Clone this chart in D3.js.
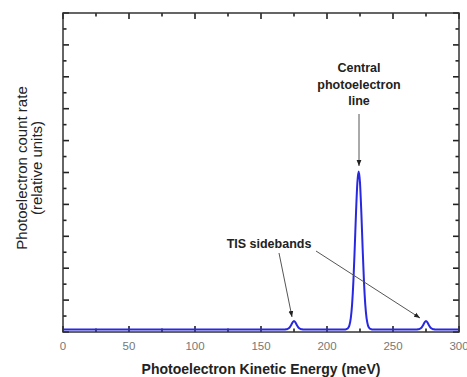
<!DOCTYPE html>
<html>
<head>
<meta charset="utf-8">
<script src="https://cdn.jsdelivr.net/npm/d3@7"></script>
<style>
  body { margin: 0; background: #fff; }
  svg { display: block; font-family: Arial, "Liberation Sans", sans-serif; }
</style>
</head>
<body>
<div id="chart"></div>
<script>
const W = 467, H = 377;
const margin = {top: 13, right: 8, bottom: 45, left: 63};

// spectrum (energy in meV, count rate in relative units)
const energy = [0, 160, 168, 169, 170, 171, 172, 173, 174, 175, 176, 177, 178, 179, 180, 181, 182, 190,
  214, 215, 216, 217, 218, 219, 220, 221, 222, 223, 224, 225, 226, 227, 228, 229, 230, 231, 232, 233, 234, 235, 236, 245,
  268, 269, 270, 271, 272, 273, 274, 275, 276, 277, 278, 279, 280, 281, 282, 300];
const counts = [0.16, 0.16, 0.16, 0.17, 0.19, 0.23, 0.32, 0.46, 0.61, 0.69, 0.61, 0.46, 0.32, 0.23, 0.19, 0.17, 0.16, 0.16,
  0.16, 0.19, 0.25, 0.43, 0.85, 1.72, 3.19, 5.25, 7.52, 9.36, 10.06, 9.36, 7.52, 5.25, 3.19, 1.72, 0.85, 0.43, 0.25, 0.19, 0.16, 0.16, 0.16,
  0.16, 0.16, 0.17, 0.19, 0.23, 0.32, 0.46, 0.61, 0.69, 0.61, 0.46, 0.32, 0.23, 0.19, 0.17, 0.16, 0.16, 0.16];

const xTicks = d3.range(0, 301, 25);
const xLabels = [0, 50, 100, 150, 200, 250, 300];
const yTicks = d3.range(0, 21, 1);

const xTitle = "Photoelectron Kinetic Energy (meV)";
const yTitle = ["Photoelectron count rate", "(relative units)"];

const svg = d3.select("#chart").append("svg").attr("width", W).attr("height", H);
const iw = W - margin.left - margin.right, ih = H - margin.top - margin.bottom;
const g = svg.append("g").attr("transform", `translate(${margin.left},${margin.top})`);

const x = d3.scaleLinear().domain([0, 300]).range([0, iw]);
const y = d3.scaleLinear().domain([0, 20]).range([ih, 0]);

// inward ticks, long on the major ones
function tickLen(v, major) { return major(v) ? 6 : 3.5; }
const xMajor = v => v % 50 === 0, yMajor = v => v % 2 === 0;

const ticks = g.append("g").attr("stroke", "#222").attr("stroke-width", 1.6);
xTicks.forEach(v => {
  const l = tickLen(v, xMajor);
  ticks.append("line").attr("x1", x(v)).attr("x2", x(v)).attr("y1", ih).attr("y2", ih - l);
  ticks.append("line").attr("x1", x(v)).attr("x2", x(v)).attr("y1", 0).attr("y2", l);
});
yTicks.forEach(v => {
  const l = tickLen(v, yMajor);
  ticks.append("line").attr("y1", y(v)).attr("y2", y(v)).attr("x1", 0).attr("x2", l);
  ticks.append("line").attr("y1", y(v)).attr("y2", y(v)).attr("x1", iw).attr("x2", iw - l);
});

// tick labels
g.append("g").selectAll("text").data(xLabels).join("text")
  .attr("x", d => x(d)).attr("y", ih + 18)
  .attr("text-anchor", "middle").attr("fill", "#777").style("font-size", "11.5px")
  .text(d => d);

// curve
const line = d3.line().x((d, i) => x(energy[i])).y(d => y(d)).curve(d3.curveMonotoneX);
g.append("path").datum(counts)
  .attr("d", line)
  .attr("fill", "none").attr("stroke", "#2828e0").attr("stroke-width", 2);

// frame
g.append("rect").attr("width", iw).attr("height", ih)
  .attr("fill", "none").attr("stroke", "#333").attr("stroke-width", 1.5);

// axis titles
svg.append("text").attr("x", margin.left + iw / 2).attr("y", 374)
  .attr("text-anchor", "middle").attr("fill", "#222")
  .style("font-size", "14px").style("font-weight", "bold").text(xTitle);
const yt = svg.append("text").attr("transform", `translate(27,168) rotate(-90)`)
  .attr("text-anchor", "middle").attr("fill", "#222")
  .style("font-size", "15px");
yt.append("tspan").attr("x", 0).attr("y", 0).text(yTitle[0]);
yt.append("tspan").attr("x", 0).attr("y", 15).text(yTitle[1]);

// annotations
svg.append("defs").append("marker").attr("id", "arr")
  .attr("viewBox", "0 0 10 10").attr("refX", 10).attr("refY", 5)
  .attr("markerWidth", 6).attr("markerHeight", 6).attr("orient", "auto")
  .append("path").attr("d", "M0,1 L10,5 L0,9 Z").attr("fill", "#222");

const ann = svg.append("g").attr("fill", "#222")
  .style("font-size", "12.5px").style("font-weight", "bold").attr("text-anchor", "middle");
["Central", "photoelectron", "line"].forEach((t, i) => {
  ann.append("text").attr("x", 359).attr("y", 72 + i * 16.5).text(t);
});
ann.append("text").attr("x", 269).attr("y", 248).text("TIS sidebands");

const arrows = [
  [x(225) + margin.left - 1, 114, x(225) + margin.left - 1, 166],
  [279, 253, 292, 317],
  [316, 251, 420, 318]
];
svg.append("g").selectAll("line").data(arrows).join("line")
  .attr("x1", d => d[0]).attr("y1", d => d[1]).attr("x2", d => d[2]).attr("y2", d => d[3])
  .attr("stroke", "#555").attr("stroke-width", 1)
  .attr("marker-end", "url(#arr)");
</script>
</body>
</html>
